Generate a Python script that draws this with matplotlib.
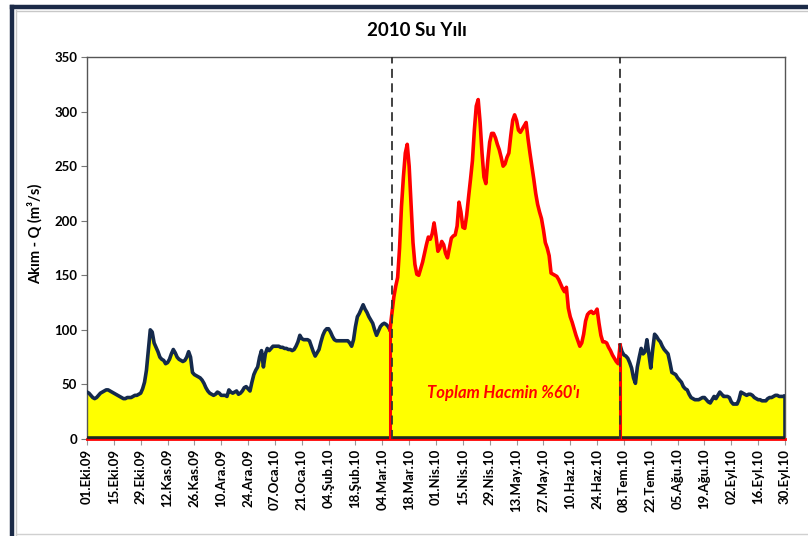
import matplotlib
matplotlib.use("Agg")
import matplotlib.pyplot as plt
from matplotlib.lines import Line2D
import numpy as np

# ---------------- data ----------------
title = "2010 Su Yılı"
ylabel = "Akım - Q (m³/s)"
note = "Toplam Hacmin %60'ı"

# daily flow, 01.Eki.09 (day 0) .. 30.Eyl.10 (day 364)
flow = [
    43, 42, 40, 38, 37, 38, 40, 42, 43, 44,
    45, 45, 44, 43, 42, 41, 40, 39, 38, 37,
    37, 38, 38, 38, 39, 40, 40, 41, 42, 46,
    52, 63, 82, 100, 98, 88, 84, 80, 75, 73,
    72, 69, 70, 73, 78, 82, 79, 75, 73, 72,
    71, 72, 75, 80, 75, 61, 59, 58, 57, 56,
    54, 51, 47, 44, 42, 41, 40, 41, 43, 42,
    40, 40, 40, 39, 45, 43, 42, 43, 44, 41,
    42, 44, 47, 48, 46, 44, 52, 59, 63, 66,
    75, 81, 66, 78, 83, 81, 83, 85, 85, 85,
    85, 84, 84, 83, 83, 82, 82, 81, 82, 85,
    89, 95, 92, 91, 91, 91, 90, 85, 80, 76,
    79, 82, 89, 95, 99, 101, 101, 98, 94, 91,
    90, 90, 90, 90, 90, 90, 90, 88, 85, 91,
    103, 112, 115, 119, 123, 119, 116, 112, 109, 106,
    100, 95, 99, 103, 105, 106, 105, 103, 100, 115,
    130, 140, 148, 175, 213, 240, 262, 270, 250, 215,
    180, 160, 151, 150, 156, 162, 170, 178, 185, 183,
    188, 198, 186, 172, 175, 181, 178, 170, 166, 175,
    184, 186, 187, 195, 217, 208, 194, 193, 205, 222,
    238, 255, 283, 305, 311, 290, 262, 240, 234, 255,
    272, 280, 280, 276, 270, 265, 258, 250, 252, 258,
    262, 278, 292, 297, 292, 283, 281, 284, 287, 290,
    275, 262, 250, 238, 225, 215, 208, 202, 192, 180,
    175, 168, 152, 151, 150, 149, 146, 142, 138, 135,
    139, 120, 112, 107, 101, 95, 90, 85, 88, 96,
    108, 114, 116, 117, 115, 116, 119, 106, 95, 89,
    89, 88, 84, 81, 77, 74, 71, 69, 86, 80,
    77, 76, 74, 70, 65, 56, 51, 66, 75, 83,
    78, 80, 91, 78, 65, 82, 96, 94, 91, 89,
    85, 82, 80, 78, 70, 61, 60, 59, 56, 54,
    52, 48, 46, 45, 41, 38, 37, 36, 36, 36,
    37, 38, 38, 36, 34, 33, 36, 39, 37, 40,
    43, 41, 39, 39, 39, 38, 34, 32, 32, 32,
    36, 43, 42, 41, 40, 41, 41, 40, 38, 37,
    36, 36, 35, 35, 35, 37, 38, 38, 39, 40,
    40, 39, 39, 39, 39,
]

# highlighted high-flow period (day indices)
period_start = 158
period_end = 278
dash_days = [158.8, 278]

tick_labels = [
    "01.Eki.09", "15.Eki.09", "29.Eki.09", "12.Kas.09", "26.Kas.09",
    "10.Ara.09", "24.Ara.09", "07.Oca.10", "21.Oca.10", "04.Şub.10",
    "18.Şub.10", "04.Mar.10", "18.Mar.10", "01.Nis.10", "15.Nis.10",
    "29.Nis.10", "13.May.10", "27.May.10", "10.Haz.10", "24.Haz.10",
    "08.Tem.10", "22.Tem.10", "05.Ağu.10", "19.Ağu.10", "02.Eyl.10",
    "16.Eyl.10", "30.Eyl.10",
]
tick_step = 14
yticks = [0, 50, 100, 150, 200, 250, 300, 350]

# ---------------- plot ----------------
plt.rcParams['font.family'] = ['Lato', 'DejaVu Sans']

W, H = 808, 536
fig = plt.figure(figsize=(W / 100, H / 100), dpi=100)
fig.patch.set_facecolor("white")


def fx(px):
    return px / W


def fy(py):
    return 1 - py / H


# outer chart frame
fig.add_artist(Line2D([fx(12), fx(12)], [fy(7), fy(560)], color="#1B2A47", lw=3.2))
fig.add_artist(Line2D([fx(12), fx(830)], [fy(7), fy(7)], color="#1B2A47", lw=3.2))
fig.add_artist(Line2D([fx(15.5), fx(15.5)], [fy(10), fy(560)], color="#C8C8C8", lw=1.0))
fig.add_artist(Line2D([fx(15.5), fx(830)], [fy(10.5), fy(10.5)], color="#C8C8C8", lw=1.0))
fig.add_artist(Line2D([fx(15.5), fx(830)], [fy(534), fy(534)], color="#D0D0D0", lw=1.0))

ax = fig.add_axes([fx(87), fy(439), (785 - 87) / W, (439 - 57) / H])

navy = "#152A4C"
red = "#FF0000"
yellow = "#FFFF00"

days = np.arange(len(flow))
q = np.array(flow, dtype=float)

ax.fill_between(days, 0, q, color=yellow, lw=0, zorder=1)

lw_line = 2.6
# navy outline segments
d1 = days[:period_start + 1]
ax.plot(d1, q[:period_start + 1], color=navy, lw=lw_line, zorder=3, solid_joinstyle="round")
d2 = days[period_end:]
ax.plot(d2, q[period_end:], color=navy, lw=lw_line, zorder=3, solid_joinstyle="round")
ax.plot([days[-1], days[-1]], [q[-1], 0], color=navy, lw=lw_line, zorder=3)
ax.plot([0, days[-1]], [0.6, 0.6], color="#1E2A22", lw=2.6, zorder=3)

# red highlighted segment
ds = days[period_start:period_end + 1]
ax.plot(ds, q[period_start:period_end + 1], color=red, lw=lw_line, zorder=4,
        solid_joinstyle="round")
ax.plot([period_start, period_start], [0, q[period_start]], color=red, lw=2.2, zorder=4)
ax.plot([period_end, period_end], [0, q[period_end]], color=red, lw=2.2, zorder=4)

for d in dash_days:
    ax.axvline(d, color="#333333", lw=1.3, ls=(0, (5, 3)), zorder=5)

ax.text(217, 42, note, color=red, fontsize=12, fontweight="bold",
        fontstyle="italic", ha="center", va="center", zorder=6)

ax.set_xlim(0, days[-1])
ax.set_ylim(0, 350)
ax.set_yticks(yticks)
ax.set_yticklabels([str(v) for v in yticks], fontsize=9.5, fontweight="bold")
ax.set_xticks(np.arange(0, len(flow), tick_step))
ax.set_xticklabels(tick_labels, rotation=90, fontsize=9.5, fontweight="bold")

for s in ["left", "top", "right"]:
    ax.spines[s].set_color("#555555")
    ax.spines[s].set_linewidth(1.0)
ax.spines["bottom"].set_color(red)
ax.spines["bottom"].set_linewidth(2.0)
ax.tick_params(axis="y", direction="out", length=4, color="#777777", pad=3)
ax.tick_params(axis="x", direction="out", length=4, color="#999999", pad=3)

fig.text(fx(417), fy(30), title, ha="center", va="center", fontsize=13.5,
         fontweight="bold")
fig.text(fx(35), fy(234), ylabel, ha="center", va="center", rotation=90,
         fontsize=10.5, fontweight="bold")

fig.savefig("out.png", dpi=100)
